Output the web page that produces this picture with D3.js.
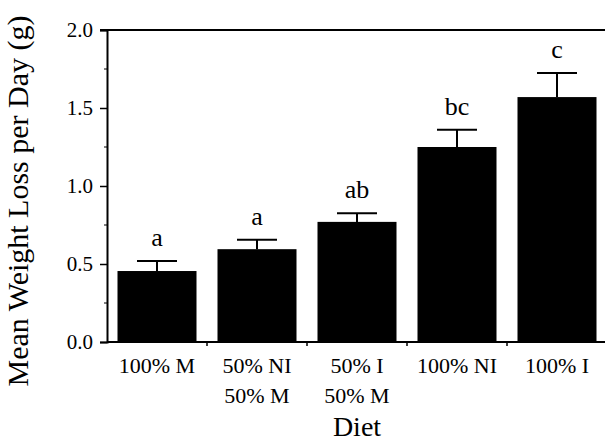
<!DOCTYPE html>
<html>
<head>
<meta charset="utf-8">
<script src="https://cdn.jsdelivr.net/npm/d3@7"></script>
<style>
  body { margin: 0; background: #fff; }
  text { font-family: "Liberation Serif", "Times New Roman", serif; fill: #000; }
</style>
</head>
<body>
<div id="chart"></div>
<script>
// data
let diets = [["100% M"], ["50% NI", "50% M"], ["50% I", "50% M"], ["100% NI"], ["100% I"]];
let means = [0.455, 0.595, 0.77, 1.25, 1.57];
let errors = [0.065, 0.06, 0.055, 0.11, 0.155];
let groups = ["a", "a", "ab", "bc", "c"];
let yTicks = [0, 0.5, 1.0, 1.5, 2.0];
let yMinor = [0.25, 0.75, 1.25, 1.75];

let width = 605;
let height = 446;
let margin = {top: 30, bottom: 104, left: 107, right: -2};

let svg = d3.select("#chart")
    .append("svg")
    .attr("width", width)
    .attr("height", height);

let x = d3.scaleBand()
    .domain(d3.range(diets.length))
    .range([margin.left, width - margin.right])
    .paddingInner(0.21)
    .paddingOuter(0.105);

let y = d3.scaleLinear()
    .domain([0, 2])
    .range([height - margin.bottom, margin.top]);

// bars
svg.append("g")
    .attr("fill", "#000")
    .selectAll("rect")
    .data(means)
    .join("rect")
        .attr("x", (d, i) => x(i))
        .attr("y", d => y(d))
        .attr("width", x.bandwidth())
        .attr("height", d => y(0) - y(d));

// error bars (upper only)
let err = svg.append("g").attr("stroke", "#000").attr("stroke-width", 2);
err.selectAll(".stem")
    .data(means)
    .join("line")
        .attr("x1", (d, i) => x(i) + x.bandwidth() / 2)
        .attr("x2", (d, i) => x(i) + x.bandwidth() / 2)
        .attr("y1", d => y(d))
        .attr("y2", (d, i) => y(d + errors[i]));
err.selectAll(".cap")
    .data(means)
    .join("line")
        .attr("x1", (d, i) => x(i) + x.bandwidth() / 2 - 20)
        .attr("x2", (d, i) => x(i) + x.bandwidth() / 2 + 20)
        .attr("y1", (d, i) => y(d + errors[i]))
        .attr("y2", (d, i) => y(d + errors[i]));

// significance letters
svg.append("g")
    .selectAll("text")
    .data(groups)
    .join("text")
        .attr("x", (d, i) => x(i) + x.bandwidth() / 2)
        .attr("y", (d, i) => y(means[i] + errors[i]) - 15)
        .attr("text-anchor", "middle")
        .attr("font-size", "26px")
        .text(d => d);

// y axis
function yAxis(g) {
    g.attr("transform", `translate(${margin.left}, 0)`)
        .call(d3.axisLeft(y).tickValues(yTicks).tickFormat(d3.format(".1f")).tickSize(7).tickPadding(7))
        .attr("font-size", "21px")
        .attr("font-family", null);
    g.select(".domain").attr("stroke-width", 2);
    g.selectAll(".tick line").attr("stroke-width", 1.5);
    g.selectAll(".tick text").style("font-family", '"Liberation Serif", serif');
}
svg.append("g").call(yAxis);

svg.append("g")
    .selectAll("line")
    .data(yMinor)
    .join("line")
        .attr("stroke", "#000")
        .attr("x1", margin.left - 3)
        .attr("x2", margin.left)
        .attr("y1", d => y(d))
        .attr("y2", d => y(d));

// top frame line and x axis line
svg.append("line")
    .attr("stroke", "#000").attr("stroke-width", 2)
    .attr("x1", margin.left - 7).attr("x2", x.range()[1])
    .attr("y1", y(2)).attr("y2", y(2));
svg.append("line")
    .attr("stroke", "#000").attr("stroke-width", 2)
    .attr("x1", margin.left).attr("x2", x.range()[1])
    .attr("y1", y(0)).attr("y2", y(0));

// x ticks between categories
let gap = x.step() - x.bandwidth();
svg.append("g")
    .selectAll("line")
    .data(d3.range(1, diets.length))
    .join("line")
        .attr("stroke", "#000").attr("stroke-width", 1.5)
        .attr("x1", i => x(i) - gap / 2)
        .attr("x2", i => x(i) - gap / 2)
        .attr("y1", y(0))
        .attr("y2", y(0) + 4);

// x tick labels (two lines where needed)
let xl = svg.append("g")
    .selectAll("text")
    .data(diets)
    .join("text")
        .attr("x", (d, i) => x(i) + x.bandwidth() / 2)
        .attr("y", y(0) + 31)
        .attr("text-anchor", "middle")
        .attr("font-size", "22px");
xl.selectAll("tspan")
    .data(d => d)
    .join("tspan")
        .attr("x", function() { return this.parentNode.getAttribute("x"); })
        .attr("dy", (d, j) => j ? 30 : 0)
        .text(d => d);

// axis titles
svg.append("text")
    .attr("x", (margin.left + x.range()[1]) / 2)
    .attr("y", 436)
    .attr("text-anchor", "middle")
    .attr("font-size", "28px")
    .text("Diet");

svg.append("text")
    .attr("transform", `translate(28, ${(y(0) + y(2)) / 2 + 15}) rotate(-90)`)
    .attr("text-anchor", "middle")
    .attr("font-size", "30px")
    .text("Mean Weight Loss per Day (g)");
</script>
</body>
</html>
